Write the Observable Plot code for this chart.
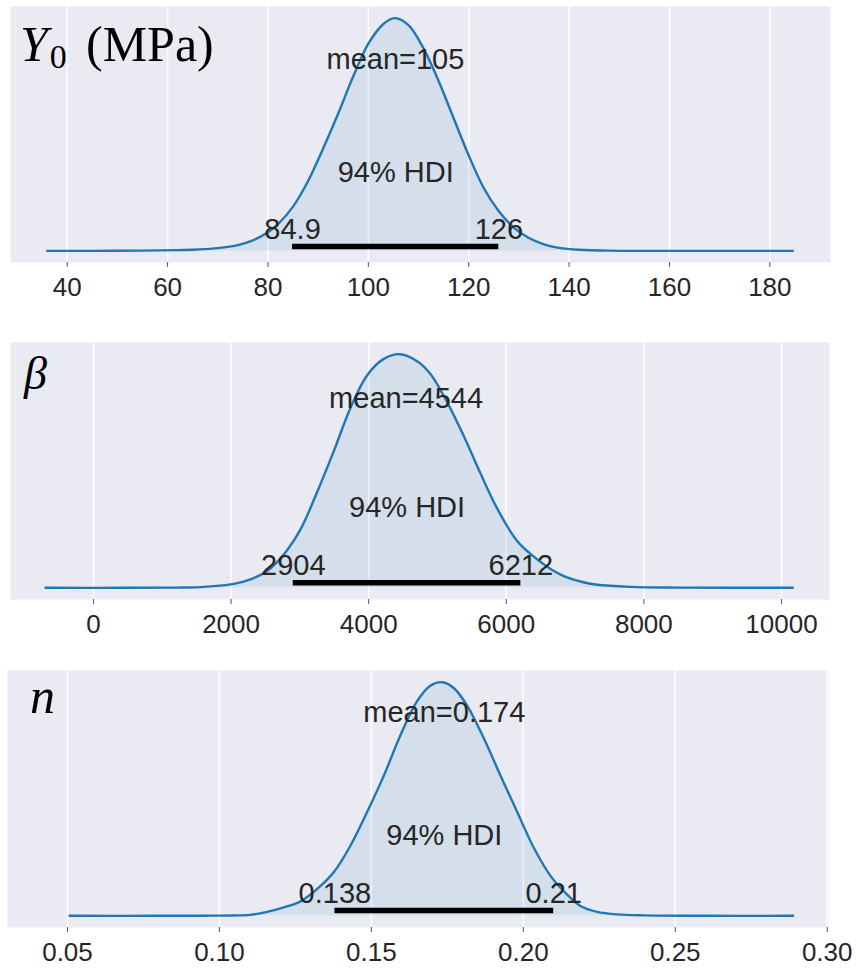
<!DOCTYPE html>
<html><head><meta charset="utf-8">
<script src="https://cdn.jsdelivr.net/npm/d3@7"></script>
<script src="https://cdn.jsdelivr.net/npm/@observablehq/plot@0.6"></script>
<style>
body{margin:0;background:#fff;}
#chart{position:relative;width:856px;height:968px;}
#chart svg{position:absolute;left:0;overflow:visible;}
</style></head><body><div id="chart"></div>
<script>
// ---- data (relative posterior density, peak = 1) ----
const y0X = [36, 45, 55, 62, 66, 70, 74, 77, 80, 82, 85, 88, 91, 94, 97, 100, 103, 105.3, 108, 111, 114, 117, 120, 123, 126, 129, 132, 135, 138, 142, 148, 160, 175, 184.6];
const y0Density = [0, 0, 0.001, 0.003, 0.006, 0.012, 0.025, 0.045, 0.08, 0.115, 0.19, 0.3, 0.44, 0.59, 0.75, 0.89, 0.975, 1.0, 0.97, 0.87, 0.73, 0.57, 0.41, 0.27, 0.17, 0.1, 0.055, 0.028, 0.013, 0.005, 0.001, 0, 0, 0];

const betaX = [-698, 500, 1200, 1555, 2039, 2282, 2524, 2766, 3009, 3251, 3493, 3735, 3978, 4220, 4452, 4705, 4898, 5140, 5382, 5625, 5867, 6158, 6352, 6594, 6836, 7078, 7321, 7805, 8500, 10164];
const betaDensity = [0, 0, 0.001, 0.003, 0.017, 0.036, 0.072, 0.143, 0.25, 0.41, 0.585, 0.77, 0.91, 0.98, 1.0, 0.97, 0.915, 0.795, 0.65, 0.49, 0.34, 0.2, 0.145, 0.09, 0.05, 0.027, 0.013, 0.004, 0.001, 0];

const nX = [0.0507, 0.08, 0.095, 0.1046, 0.1102, 0.1157, 0.1212, 0.1267, 0.1322, 0.1376, 0.1431, 0.1486, 0.1541, 0.1596, 0.1651, 0.1694, 0.1733, 0.1771, 0.1815, 0.187, 0.1925, 0.198, 0.2035, 0.209, 0.2145, 0.2188, 0.2243, 0.2309, 0.24, 0.26, 0.2888];
const nDensity = [0, 0, 0.0005, 0.0015, 0.004, 0.017, 0.036, 0.062, 0.115, 0.186, 0.30, 0.444, 0.60, 0.774, 0.92, 0.985, 1.0, 0.975, 0.90, 0.76, 0.60, 0.444, 0.29, 0.17, 0.09, 0.042, 0.017, 0.006, 0.002, 0, 0];

const meanValues = [105.4, 4544, 0.174];
const meanLabels = ["mean=105", "mean=4544", "mean=0.174"];
const hdiLow = [84.9, 2904, 0.138];
const hdiHigh = [126, 6212, 0.21];
const hdiLowLabels = ["84.9", "2904", "0.138"];
const hdiHighLabels = ["126", "6212", "0.21"];
const hdiLabel = "94% HDI";

const y0Ticks = [40, 60, 80, 100, 120, 140, 160, 180];
const betaTicks = [0, 2000, 4000, 6000, 8000, 10000];
const nTicks = [0.05, 0.10, 0.15, 0.20, 0.25, 0.30];
const y0TickLabels = ["40", "60", "80", "100", "120", "140", "160", "180"];
const betaTickLabels = ["0", "2000", "4000", "6000", "8000", "10000"];
const nTickLabels = ["0.05", "0.10", "0.15", "0.20", "0.25", "0.30"];

// ---- layout ----
const panels = [
  {xs: y0X, ds: y0Density, ticks: y0Ticks, tickLabels: y0TickLabels, top: 0, mt: 6, ph: 256, mb: 70, ml: 10, mr: 26,
   domain: [28.7, 192.09], meanY: 0.782, hdiY: 0.298, endY: 0.052, barY: 0.019},
  {xs: betaX, ds: betaDensity, ticks: betaTicks, tickLabels: betaTickLabels, top: 336, mt: 6, ph: 257, mb: 60, ml: 10, mr: 27,
   domain: [-1206, 10698], meanY: 0.769, hdiY: 0.302, endY: 0.056, barY: 0.022},
  {xs: nX, ds: nDensity, ticks: nTicks, tickLabels: nTickLabels, top: 664, mt: 6, ph: 257, mb: 41, ml: 7, mr: 28,
   domain: [0.03026, 0.30043], meanY: 0.83, hdiY: 0.302, endY: 0.053, barY: 0.023}
];

const blue = "#1f77b4";
const ink = "#262626";
const chart = document.getElementById("chart");

panels.forEach((p, i) => {
  const curve = p.xs.map((x, k) => ({x, d: p.ds[k]}));
  const labelOf = new Map(p.ticks.map((t, k) => [t, p.tickLabels[k]]));
  const svg = Plot.plot({
    width: 856,
    height: p.mt + p.ph + p.mb,
    marginTop: p.mt, marginBottom: p.mb, marginLeft: p.ml, marginRight: p.mr,
    style: {fontFamily: "'Liberation Sans', Arial, sans-serif", color: ink, background: "transparent", overflow: "visible"},
    x: {domain: p.domain},
    y: {domain: [-0.05, 1.05], axis: null},
    marks: [
      Plot.frame({fill: "#EAEAF2", stroke: null}),
      Plot.gridX(p.ticks, {stroke: "white", strokeOpacity: 1, strokeWidth: 1.5}),
      Plot.areaY(curve, {x: "x", y: "d", fill: blue, fillOpacity: 0.1, curve: "catmull-rom"}),
      Plot.lineY(curve, {x: "x", y: "d", stroke: blue, strokeWidth: 2.4, curve: "catmull-rom"}),
      Plot.ruleY([p.barY], {x1: hdiLow[i], x2: hdiHigh[i], stroke: "black", strokeWidth: 5.5, strokeLinecap: "butt"}),
      Plot.text([meanValues[i]], {x: d => d, y: () => p.meanY, text: () => meanLabels[i], fontSize: 29, lineAnchor: "bottom", fill: ink}),
      Plot.text([(hdiLow[i] + hdiHigh[i]) / 2], {x: d => d, y: () => p.hdiY, text: () => hdiLabel, fontSize: 29, lineAnchor: "bottom", fill: ink}),
      Plot.text([hdiLow[i], hdiHigh[i]], {x: d => d, y: () => p.endY, text: (d, k) => [hdiLowLabels[i], hdiHighLabels[i]][k], fontSize: 29, lineAnchor: "bottom", fill: ink}),
      Plot.axisX(p.ticks, {tickSize: 5, tickPadding: 10, fontSize: 26, stroke: "#555", strokeWidth: 1, fill: ink, tickFormat: t => labelOf.get(t), label: null})
    ]
  });
  svg.style.top = p.top + "px";
  // panel title (math-style parameter name)
  const s = d3.select(svg);
  const serif = "'Liberation Serif', 'DejaVu Serif', serif";
  if (i === 0) {
    const t = s.append("text").attr("x", 20).attr("y", 61).attr("text-anchor", "start").attr("font-family", serif).attr("font-size", 50).attr("fill", "black");
    t.append("tspan").attr("font-style", "italic").text("Y");
    t.append("tspan").attr("font-size", 34).attr("dy", 7).attr("dx", 2).text("0");
    t.append("tspan").attr("x", 86).attr("dy", -7).text("(MPa)");
  } else if (i === 1) {
    s.append("text").attr("x", 24).attr("y", 53).attr("text-anchor", "start").attr("font-family", serif).attr("font-style", "italic").attr("font-size", 46).attr("fill", "black").text("β");
  } else {
    s.append("text").attr("x", 30).attr("y", 49).attr("text-anchor", "start").attr("font-family", serif).attr("font-style", "italic").attr("font-size", 50).attr("fill", "black").text("n");
  }
  chart.appendChild(svg);
});
</script>
</body></html>
